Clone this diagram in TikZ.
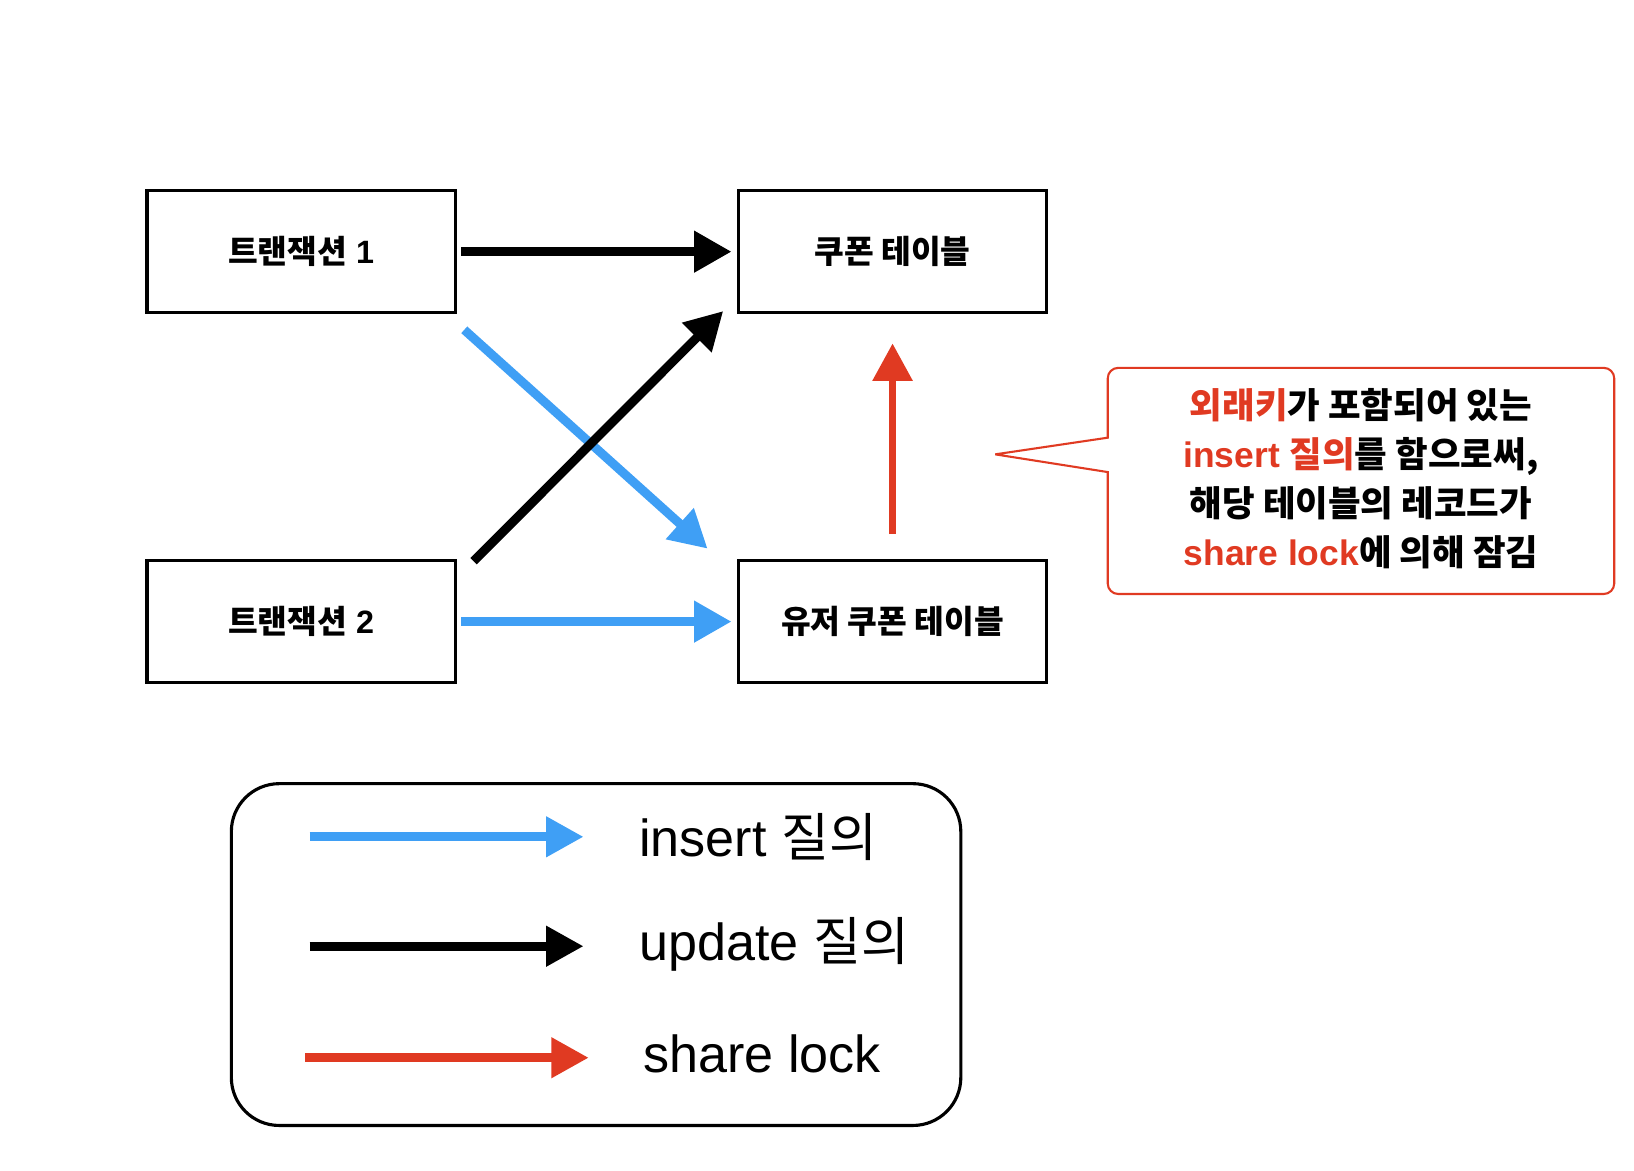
\documentclass[tikz,border=0pt]{standalone}
\usepackage{fontspec}
\setmainfont{Liberation Sans}
\newfontfamily\kr{Noto Sans CJK KR}
\usetikzlibrary{arrows.meta,calc}
\definecolor{cblue}{RGB}{63,159,245}
\definecolor{cred}{RGB}{224,58,34}
\begin{document}
\begin{tikzpicture}[x=0.5pt,y=-0.5pt,
  bx/.style={draw,line width=1.5pt,minimum width=148pt,minimum height=58.5pt,inner sep=0pt,
    font=\fontsize{15.5pt}{18pt}\selectfont\bfseries},
  blk/.style={draw=black,line width=4.3pt,-{Triangle[length=18pt,width=19pt]}},
  blu/.style={draw=cblue,line width=4.3pt,-{Triangle[length=18pt,width=19pt]}},
  rdd/.style={draw=cred,line width=3.5pt,-{Triangle[length=18pt,width=18.5pt]}},
  lgtext/.style={anchor=base west,inner sep=0pt,font=\fontsize{25pt}{28pt}\selectfont},
  lgarrow/.style={line width=4.3pt,-{Triangle[length=18pt,width=18.5pt]}}
]
\useasboundingbox (0,0) rectangle (1568,1123);

% boxes
\node[bx] (t1) at (289,241.5) {{\kr 트랜잭션} 1};
\node[bx] (cp) at (856.5,241.5) {\kr 쿠폰 테이블};
\node[bx] (t2) at (289,596.5) {{\kr 트랜잭션} 2};
\node[bx] (uc) at (856.5,596.5) {\kr 유저 쿠폰 테이블};

% arrows
\draw[blk] ($(t1.east)+(4,0)$) -- ($(cp.west)+(-5,0)$);
\draw[blu] ($(t2.east)+(4,0)$) -- ($(uc.west)+(-5,0)$);
\draw[blu] ($(t1.south east)+(7,15)$) -- ($(uc.north west)+(-28,-10)$);
\draw[blk] ($(t2.north east)+(16,2)$) -- ($(cp.south west)+(-13,-3)$);
\draw[rdd] ($(uc.north)+(0,-24)$) -- ($(cp.south)+(0,28)$);

% callout
\coordinate (ptip) at (955,436);
\draw[cred,line width=1pt] (ptip) -- (1063,453) [rounded corners=5pt] -- (1063,570) -- (1549,570)
  -- (1549,353) -- (1063,353) [sharp corners] -- (1063,420) -- (ptip);
\node[align=center,inner sep=0pt,font=\fontsize{17pt}{23.5pt}\selectfont\bfseries] (note) at (1306,459)
  {{\kr\color{cred}외래키}{\kr 가 포함되어 있는}\\
   {\color{cred}insert {\kr 질의}}{\kr 를 함으로써,}\\
   {\kr 해당 테이블의 레코드가}\\
   {\color{cred}share lock}{\kr 에 의해 잠김}};

% legend
\node[draw,line width=1.5pt,rounded corners=23pt,minimum width=350pt,minimum height=164pt] (legend) at (572,916) {};
\coordinate (la1) at (297,803); \coordinate (lb1) at (560,803);
\coordinate (la2) at (297,908); \coordinate (lb2) at (560,908);
\coordinate (la3) at (293,1015); \coordinate (lb3) at (565,1015);
\draw[lgarrow,draw=cblue] (la1) -- (lb1);
\draw[lgarrow,draw=black] (la2) -- (lb2);
\draw[lgarrow,draw=cred] (la3) -- (lb3);
\node[lgtext] (lt1) at (613,822) {insert {\kr 질의}};
\node[lgtext] (lt2) at (613,922) {update {\kr 질의}};
\node[lgtext] (lt3) at (617,1029) {share lock};
\end{tikzpicture}
\end{document}
